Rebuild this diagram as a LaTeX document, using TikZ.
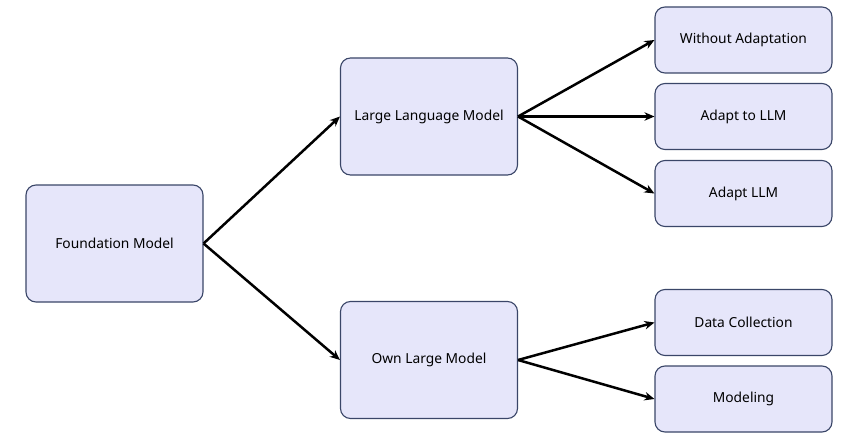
\documentclass[tikz,border=0pt]{standalone}
\usepackage{fontspec}
\setmainfont{Noto Sans}
\usetikzlibrary{arrows.meta}
\definecolor{boxfill}{HTML}{E6E6FA}
\definecolor{boxline}{HTML}{3A4668}
\begin{document}
\begin{tikzpicture}[x=1pt,y=-1pt,
  box/.style={draw=boxline,fill=boxfill,line width=1.1pt,rounded corners=10pt,
    font=\fontsize{13.8}{16}\selectfont,text=black,inner sep=0pt},
  big/.style={box,minimum width=177pt,minimum height=117pt},
  small/.style={box,minimum width=177pt,minimum height=66pt},
  conn/.style={line width=2.5pt,-{Stealth[length=10pt,width=8.5pt]}}]
\useasboundingbox (0,0) rectangle (860,444);
\node[big] (fm) at (114.5,243.5) {Foundation Model};
\node[big] (llm) at (429,116.5) {Large Language Model};
\node[big] (own) at (429,360) {Own Large Model};
\node[small] (wa) at (743.5,40) {Without Adaptation};
\node[small] (at) at (743.5,116.5) {Adapt to LLM};
\node[small] (al) at (743.5,193.5) {Adapt LLM};
\node[small] (dc) at (743.5,322.5) {Data Collection};
\node[small] (md) at (743.5,399) {Modeling};
\draw[conn] (fm.east) -- (llm.west);
\draw[conn] (fm.east) -- (own.west);
\draw[conn] (llm.east) -- (wa.west);
\draw[conn] (llm.east) -- (at.west);
\draw[conn] (llm.east) -- (al.west);
\draw[conn] (own.east) -- (dc.west);
\draw[conn] (own.east) -- (md.west);
\end{tikzpicture}
\end{document}
